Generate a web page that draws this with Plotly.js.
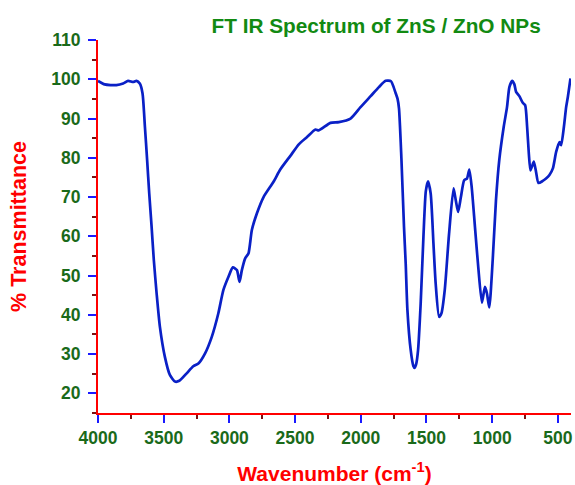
<!DOCTYPE html>
<html>
<head>
<meta charset="utf-8">
<script src="https://cdn.plot.ly/plotly-3.0.1.min.js"></script>
<style>html,body{margin:0;padding:0;background:#fff;}#chart{width:575px;height:485px;}</style>
</head>
<body>
<div id="chart"></div>
<script>
const wavenumber = [4000, 3949, 3860, 3809, 3771, 3733, 3707, 3682, 3661, 3643, 3626, 3610, 3592, 3575, 3554, 3529, 3491, 3453, 3414, 3381, 3325, 3275, 3236, 3185, 3134, 3084, 3046, 3007, 2974, 2943, 2923, 2905, 2880, 2855, 2829, 2791, 2740, 2664, 2613, 2536, 2470, 2409, 2345, 2320, 2231, 2167, 2078, 2002, 1925, 1862, 1811, 1770, 1750, 1735, 1720, 1709, 1691, 1671, 1658, 1645, 1620, 1600, 1590, 1578, 1564, 1544, 1523, 1505, 1488, 1468, 1447, 1430, 1404, 1386, 1361, 1328, 1294, 1277, 1259, 1238, 1213, 1192, 1174, 1156, 1131, 1106, 1078, 1055, 1040, 1022, 996, 971, 946, 912, 887, 869, 848, 831, 818, 793, 767, 749, 734, 721, 709, 698, 683, 666, 648, 615, 590, 564, 538, 513, 488, 475, 454, 437, 424, 404];
const transmittance = [99.6, 98.7, 98.5, 98.9, 99.6, 99.3, 99.6, 98.9, 96.4, 87.9, 79.4, 70.9, 62.4, 53.9, 45.5, 37.0, 29.3, 24.7, 23.0, 23.2, 25.1, 26.9, 27.6, 30.2, 34.4, 40.4, 46.3, 49.7, 52.1, 51.4, 48.4, 51.4, 54.4, 55.6, 61.6, 65.8, 70.0, 73.9, 77.0, 80.5, 83.5, 85.3, 87.2, 87.0, 88.9, 89.1, 90.0, 92.9, 95.7, 98.0, 99.6, 99.5, 98.0, 96.5, 95.0, 92.5, 80.0, 62.4, 53.0, 41.2, 31.0, 27.0, 26.5, 27.5, 31.0, 43.0, 60.0, 71.5, 74.0, 70.9, 58.2, 48.0, 39.5, 40.4, 46.3, 60.7, 72.2, 69.2, 66.2, 70.0, 74.3, 74.7, 77.0, 72.6, 62.4, 52.2, 43.1, 47.1, 45.5, 41.9, 53.9, 69.2, 79.4, 87.9, 92.9, 98.0, 99.6, 98.7, 96.8, 95.7, 94.0, 93.4, 87.9, 81.1, 76.8, 77.7, 79.0, 76.4, 73.6, 74.1, 74.7, 75.6, 77.3, 81.5, 84.0, 83.2, 87.9, 92.9, 95.5, 100.2];
const titleText = 'FT IR Spectrum of ZnS / ZnO NPs';
const xTitle = 'Wavenumber (cm<sup>-1</sup>)';
const yTitle = '% Transmittance';

const fontFam = 'Liberation Sans, Arial, sans-serif';
const tickGreen = '#1a6a1a';

Plotly.newPlot('chart', [{
  x: wavenumber, y: transmittance, type: 'scatter', mode: 'lines',
  line: {color: '#0a20c6', width: 2.7, shape: 'spline', smoothing: 0.6},
  hoverinfo: 'none'
}], {
  width: 575, height: 485,
  margin: {l: 98, r: 4, t: 40, b: 72},
  paper_bgcolor: '#ffffff', plot_bgcolor: '#ffffff',
  showlegend: false,
  title: {text: '<b>' + titleText + '</b>', font: {family: fontFam, size: 20.8, color: '#128a12'},
          xref: 'paper', x: 0.588, xanchor: 'center', yref: 'container', y: 0.948, yanchor: 'middle'},
  xaxis: {
    range: [4000, 400], autorange: false, tick0: 500, dtick: 500, tickmode: 'linear',
    showgrid: false, zeroline: false, showline: true, linecolor: '#ff0000', linewidth: 2,
    ticks: 'outside', ticklen: 8, tickwidth: 2, tickcolor: '#1a1aff',
    minor: {dtick: 250, tick0: 250, ticks: 'outside', ticklen: 4, tickwidth: 2, tickcolor: '#7b1010', showgrid: false},
    tickfont: {family: fontFam, size: 17.5, color: tickGreen, weight: 'bold'},
    title: {text: '<b>' + xTitle + '</b>', font: {family: fontFam, size: 21, color: '#ff0000'}, standoff: 20}
  },
  yaxis: {
    range: [15, 110], autorange: false, tick0: 20, dtick: 10, tickmode: 'linear',
    showgrid: false, zeroline: false, showline: true, linecolor: '#ff0000', linewidth: 2,
    ticks: 'outside', ticklen: 8, tickwidth: 2, tickcolor: '#1a1aff', ticklabelstandoff: 4,
    minor: {dtick: 5, tick0: 15, ticks: 'outside', ticklen: 4, tickwidth: 2, tickcolor: '#7b1010', showgrid: false},
    tickfont: {family: fontFam, size: 17.5, color: tickGreen, weight: 'bold'},
    title: {text: '<b>' + yTitle + '</b>', font: {family: fontFam, size: 21.5, color: '#ff0000'}, standoff: 19}
  }
}, {staticPlot: true, displayModeBar: false});
</script>
</body>
</html>
